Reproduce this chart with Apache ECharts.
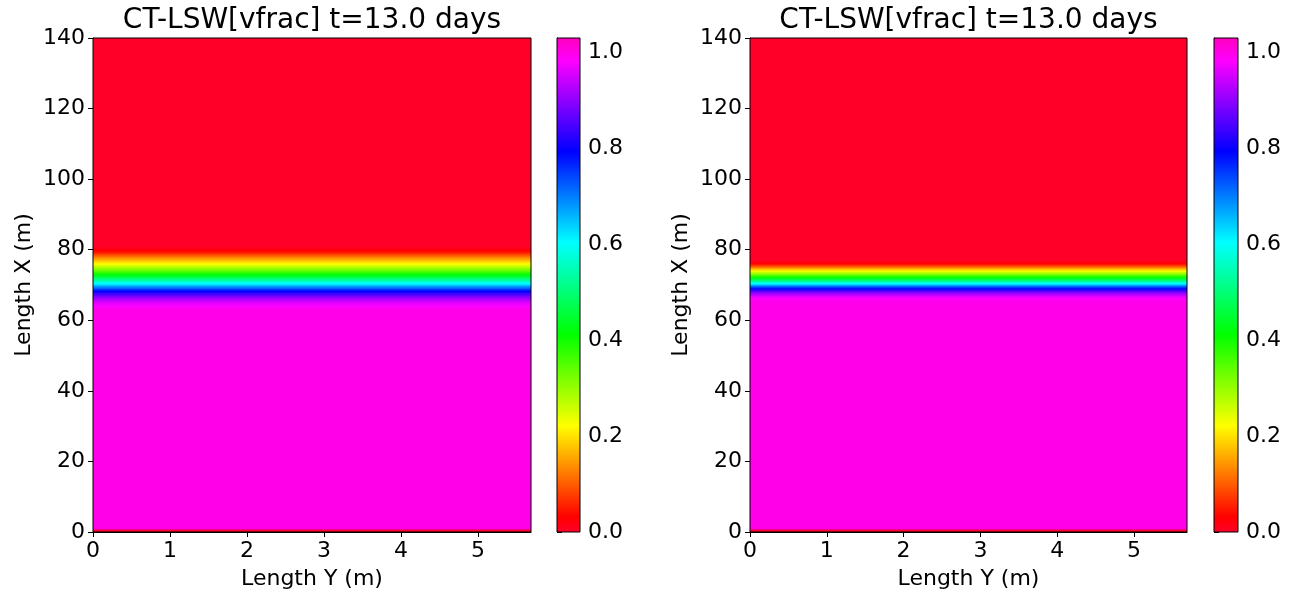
<!DOCTYPE html>
<html><head><meta charset="utf-8">
<script src="https://cdn.jsdelivr.net/npm/echarts@6/dist/echarts.min.js"></script>
<style>html,body{margin:0;padding:0;background:#fff}#c{width:1293px;height:592px}</style>
</head><body><div id="c"></div>
<script>
// ---- data ----
const titleText = 'CT-LSW[vfrac] t=13.0 days';
const xAxisName = 'Length Y (m)';
const yAxisName = 'Length X (m)';
const lengthYMax = 5.69;          // extent of horizontal axis (m)
const lengthXMax = 140;           // extent of vertical axis (m)
const vfracMin = 0;
const vfracMax = 1.03;            // colour scale maximum
const colorbarTicks = [0, 0.2, 0.4, 0.6, 0.8, 1.0];

// vertical profile of vfrac along Length X (left panel)
const lengthXLeft = [0, 0.8, 0.8, 63, 64, 65, 66, 67, 68, 69, 70, 71, 72, 73, 74, 75, 76, 77, 78, 79, 80, 81, 140];
const vfracLeft   = [0, 0,   1,   1,  0.98, 0.96, 0.92, 0.87, 0.81, 0.73, 0.64, 0.56, 0.48, 0.41, 0.34, 0.28, 0.22, 0.17, 0.12, 0.06, 0.02, 0, 0];

// vertical profile of vfrac along Length X (right panel)
const lengthXRight = [0, 0.8, 0.8, 65, 66, 67, 68, 69, 70, 71, 72, 73, 74, 75, 76, 77, 140];
const vfracRight   = [0, 0,   1,   1,  0.99, 0.95, 0.88, 0.79, 0.66, 0.53, 0.42, 0.32, 0.22, 0.12, 0.03, 0, 0];

// ---- colormap (matplotlib gist_rainbow) ----
const gistRainbow = [
  [0.000, [255, 0, 41]],
  [0.030, [255, 0, 0]],
  [0.215, [255, 255, 0]],
  [0.400, [0, 255, 0]],
  [0.586, [0, 255, 255]],
  [0.770, [0, 0, 255]],
  [0.954, [255, 0, 255]],
  [1.000, [255, 0, 191]]
];
function cmap(p) {
  p = Math.max(0, Math.min(1, p));
  for (let i = 0; i < gistRainbow.length - 1; i++) {
    const [a, ca] = gistRainbow[i], [b, cb] = gistRainbow[i + 1];
    if (p <= b) {
      const t = (p - a) / (b - a);
      const c = ca.map((v, k) => Math.round(v + (cb[k] - v) * t));
      return 'rgb(' + c.join(',') + ')';
    }
  }
  return 'rgb(255,0,191)';
}
function norm(v) { return (v - vfracMin) / (vfracMax - vfracMin); }
function gradientFor(v0, v1) {
  const p0 = norm(v0), p1 = norm(v1);
  if (Math.abs(p1 - p0) < 1e-9) return cmap(p0);
  const stops = [{offset: 0, color: cmap(p0)}, {offset: 1, color: cmap(p1)}];
  const lo = Math.min(p0, p1), hi = Math.max(p0, p1);
  gistRainbow.forEach(([s]) => {
    if (s > lo && s < hi) stops.push({offset: (s - p0) / (p1 - p0), color: cmap(s)});
  });
  stops.sort((a, b) => a.offset - b.offset);
  return new echarts.graphic.LinearGradient(0, 1, 0, 0, stops);
}
function segments(xs, vs) {
  const out = [];
  for (let i = 0; i < xs.length - 1; i++) out.push([xs[i], xs[i + 1], vs[i], vs[i + 1]]);
  return out;
}

// ---- layout ----
const FONT = 'DejaVu Sans';
const panels = [
  {left: 93, width: 438, cbLeft: 557, cbWidth: 23, xs: lengthXLeft, vs: vfracLeft},
  {left: 750, width: 437, cbLeft: 1214, cbWidth: 24, xs: lengthXRight, vs: vfracRight}
];
const TOP = 38, HEIGHT = 494;

const chart = echarts.init(document.getElementById('c'), null, {renderer: 'canvas'});
const grid = [], xAxis = [], yAxis = [], series = [], title = [];
const tickStyle = {show: true, length: 5, inside: false, lineStyle: {color: '#000', width: 1}};
const lineStyle = {show: true, lineStyle: {color: '#000', width: 1}};
const labelStyle = {color: '#000', fontSize: 22, fontFamily: FONT};

panels.forEach((p, i) => {
  const gMain = grid.length;
  grid.push({left: p.left, top: TOP, width: p.width, height: HEIGHT, show: true, containLabel: false,
    outerBoundsMode: 'none',
    borderColor: '#000', borderWidth: 1, backgroundColor: 'transparent', z: 10});
  const gCb = grid.length;
  grid.push({left: p.cbLeft, top: TOP, width: p.cbWidth, height: HEIGHT, show: true, containLabel: false,
    outerBoundsMode: 'none',
    borderColor: '#000', borderWidth: 1, backgroundColor: 'transparent', z: 10});
  title.push({text: titleText, left: p.left + p.width / 2 - 5, top: 2, textAlign: 'center',
    textStyle: {fontFamily: FONT, fontSize: 28, fontWeight: 'normal', color: '#000'}});

  const xi = xAxis.length;
  xAxis.push({gridIndex: gMain, type: 'value', min: 0, max: lengthYMax, interval: 1,
    name: xAxisName, nameLocation: 'middle', nameGap: 36,
    nameTextStyle: {color: '#000', fontSize: 22, fontFamily: FONT},
    axisLine: lineStyle, axisTick: tickStyle, splitLine: {show: false},
    axisLabel: Object.assign({margin: 8, showMaxLabel: false, showMinLabel: true}, labelStyle)});
  xAxis.push({gridIndex: gCb, type: 'value', min: 0, max: 1, show: false});
  const yi = yAxis.length;
  yAxis.push({gridIndex: gMain, type: 'value', min: 0, max: lengthXMax, interval: 20,
    name: yAxisName, nameLocation: 'middle', nameGap: 58, nameRotate: 90,
    nameTextStyle: {color: '#000', fontSize: 22, fontFamily: FONT},
    axisLine: lineStyle, axisTick: tickStyle, splitLine: {show: false},
    axisLabel: Object.assign({margin: 8}, labelStyle)});
  yAxis.push({gridIndex: gCb, type: 'value', position: 'right', min: vfracMin, max: vfracMax, interval: 0.2,
    axisLine: lineStyle, axisTick: tickStyle, splitLine: {show: false},
    axisLabel: Object.assign({margin: 8, showMaxLabel: false,
      formatter: v => (colorbarTicks.some(t => Math.abs(t - v) < 1e-6) ? v.toFixed(1) : '')}, labelStyle)});

  series.push({
    type: 'custom', xAxisIndex: xi, yAxisIndex: yi, z: 2, clip: true,
    data: segments(p.xs, p.vs),
    renderItem: function (params, api) {
      const x0 = api.value(0), x1 = api.value(1), v0 = api.value(2), v1 = api.value(3);
      const a = api.coord([0, x0]);
      const b = api.coord([lengthYMax, x1]);
      const h = a[1] - b[1];
      if (h <= 0) return null;
      return {type: 'rect',
        shape: {x: a[0], y: b[1] - 0.4, width: b[0] - a[0], height: h + 0.8},
        style: {fill: gradientFor(v0, v1), stroke: null}};
    }
  });
  series.push({
    type: 'custom', xAxisIndex: xi + 1, yAxisIndex: yi + 1, z: 2,
    data: [[vfracMin, vfracMax]],
    renderItem: function (params, api) {
      const a = api.coord([0, api.value(0)]);
      const b = api.coord([1, api.value(1)]);
      const stops = gistRainbow.map(([s]) => ({offset: s, color: cmap(s)}));
      return {type: 'rect',
        shape: {x: a[0], y: b[1], width: b[0] - a[0], height: a[1] - b[1]},
        style: {fill: new echarts.graphic.LinearGradient(0, 1, 0, 0, stops), stroke: null}};
    }
  });
});

chart.setOption({animation: false, backgroundColor: '#fff', title, grid, xAxis, yAxis, series});
</script></body></html>
